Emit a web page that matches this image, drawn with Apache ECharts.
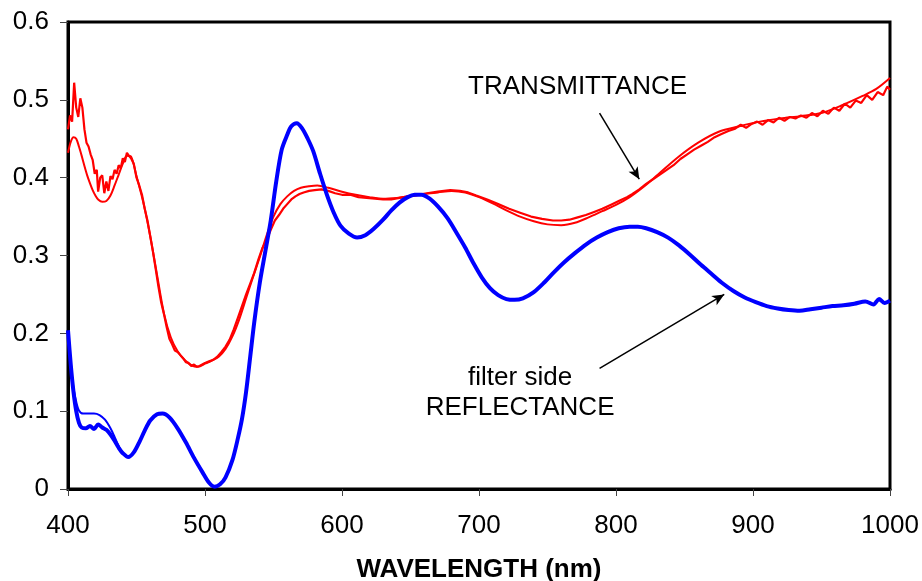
<!DOCTYPE html>
<html><head><meta charset="utf-8">
<script src="https://cdn.jsdelivr.net/npm/echarts@6/dist/echarts.min.js"></script>
<style>html,body{margin:0;padding:0;background:#fff}#c{width:922px;height:581px}</style>
</head><body><div id="c"></div>
<script>
// Reflectance (filter side), measurement A (slightly noisy in the blue start)
const wlReflA = [400,402,404,406,408,410,413,416,419,422,425,428,431,434,437,440,444,448,452,456,460,465,469,474,480,486,492,498,503,507,511,515,520,524,527,530,533,536,540,544,548,552,556,560,563,567,571,575,579,584,589,594,599,605,611,617,623,630,636,642,648,653,658,664,670,677,684,690,696,702,708,714,720,726,732,740,748,755,762,770,778,786,794,802,810,816,822,830,838,846,854,862,870,878,886,894,902,910,918,926,934,942,950,958,966,974,982,988,992,996,1000];
const reflA   = [0.204,0.16,0.125,0.1,0.085,0.079,0.078,0.081,0.077,0.083,0.079,0.076,0.07,0.062,0.053,0.046,0.041,0.047,0.06,0.075,0.088,0.096,0.097,0.092,0.078,0.06,0.04,0.022,0.008,0.003,0.006,0.015,0.037,0.065,0.09,0.125,0.17,0.215,0.265,0.305,0.345,0.395,0.436,0.455,0.466,0.47,0.463,0.45,0.434,0.405,0.378,0.355,0.338,0.328,0.323,0.326,0.334,0.346,0.358,0.368,0.375,0.378,0.378,0.373,0.363,0.348,0.328,0.31,0.29,0.272,0.258,0.249,0.244,0.243,0.245,0.253,0.266,0.279,0.291,0.303,0.314,0.323,0.33,0.335,0.337,0.337,0.335,0.33,0.323,0.313,0.301,0.288,0.276,0.264,0.254,0.246,0.24,0.235,0.232,0.23,0.229,0.231,0.233,0.235,0.236,0.238,0.241,0.237,0.244,0.239,0.242];
// Reflectance, measurement B (smooth start, then coincides with A)
const wlReflB = [400,402,404,406,408,411,415,419,423,427,431,434,437,440,444];
const reflB   = [0.2,0.158,0.13,0.112,0.101,0.097,0.097,0.097,0.095,0.089,0.078,0.067,0.055,0.046,0.041];

// Transmittance, measurement A (noisy)
const wlTransA = [400,401.5,403,404.5,406,407.5,409,410.5,412,413.5,415,416.5,418,419.5,421,422,423.5,425,426.5,428,429.5,431,432.5,434,435.5,437,438.5,440,441.5,443,444.5,446,448,450,452,454,456,458,460,462,464,466,468,470,472,474,476,478,480,482,484,486,488,490,492,494,496,498,500,503,506,509,512,515,518,521,524,527,530,533,536,539,542,545,548,551,554,557,560,563,566,569,572,576,580,585,590,595,600,606,612,618,624,630,636,642,648,655,662,670,679,686,692,698,706,714,722,730,738,746,754,760,766,772,778,784,790,796,802,808,812,817,822,827,832,837,842,847,852,857,862,867,872,877,882,887,891,895,899,903,907,911,915,919,923,927,931,935,939,943,947,951,955,959,963,967,971,975,979,983,987,991,995,998,1000];
const transA   = [0.462,0.48,0.472,0.522,0.49,0.478,0.502,0.49,0.462,0.445,0.44,0.43,0.423,0.405,0.41,0.382,0.4,0.403,0.38,0.395,0.383,0.402,0.398,0.41,0.405,0.416,0.412,0.425,0.42,0.432,0.428,0.425,0.418,0.4,0.39,0.378,0.36,0.345,0.325,0.305,0.283,0.26,0.24,0.225,0.208,0.193,0.186,0.178,0.176,0.172,0.168,0.163,0.162,0.158,0.16,0.157,0.158,0.16,0.162,0.164,0.166,0.17,0.176,0.183,0.192,0.205,0.22,0.235,0.25,0.264,0.278,0.295,0.31,0.32,0.333,0.345,0.352,0.36,0.366,0.372,0.376,0.379,0.381,0.383,0.384,0.385,0.383,0.38,0.378,0.378,0.375,0.374,0.373,0.372,0.372,0.374,0.376,0.378,0.38,0.382,0.384,0.383,0.381,0.377,0.372,0.366,0.36,0.355,0.35,0.347,0.345,0.345,0.346,0.349,0.352,0.356,0.36,0.365,0.37,0.375,0.379,0.385,0.392,0.398,0.404,0.41,0.416,0.424,0.43,0.436,0.441,0.446,0.452,0.456,0.46,0.463,0.468,0.464,0.469,0.472,0.468,0.474,0.471,0.477,0.473,0.478,0.476,0.48,0.477,0.483,0.479,0.486,0.482,0.49,0.486,0.495,0.49,0.499,0.496,0.506,0.5,0.51,0.506,0.517,0.513,0.532,0.528];
// Transmittance, measurement B (smooth)
const wlTransB = [400,402,404,406,408,410,412,414,416,418,420,422,425,428,431,434,437,440,443,446,450,455,460,465,470,475,480,485,490,495,500,505,510,515,520,525,530,535,540,545,550,555,560,565,570,576,582,590,600,610,620,630,640,650,660,670,680,690,700,710,720,730,740,750,760,770,780,790,800,810,820,830,845,860,875,890,905,920,935,950,965,980,990,1000];
const transB   = [0.432,0.446,0.452,0.45,0.44,0.428,0.415,0.403,0.393,0.384,0.377,0.372,0.369,0.37,0.377,0.39,0.404,0.418,0.428,0.427,0.402,0.368,0.325,0.275,0.226,0.195,0.177,0.166,0.159,0.157,0.161,0.165,0.17,0.18,0.196,0.218,0.245,0.272,0.298,0.326,0.35,0.366,0.376,0.383,0.387,0.389,0.39,0.387,0.382,0.378,0.375,0.373,0.374,0.376,0.379,0.381,0.383,0.381,0.375,0.367,0.358,0.35,0.344,0.34,0.339,0.342,0.349,0.357,0.365,0.375,0.388,0.403,0.426,0.445,0.459,0.466,0.472,0.476,0.479,0.483,0.493,0.505,0.514,0.528];

const xTicks = [400,500,600,700,800,900,1000];
const yTicks = [0,0.1,0.2,0.3,0.4,0.5,0.6];

const FONT = '"Liberation Sans", Arial, sans-serif';
const pairs = (xs, ys) => xs.map((x, i) => [x, ys[i]]);

const chart = echarts.init(document.getElementById('c'), null, {renderer: 'canvas'});
chart.setOption({
  animation: false,
  backgroundColor: '#fff',
  grid: {left: 68, right: 32, top: 22, bottom: 92, containLabel: false, outerBoundsMode: 'none',
    show: true, borderColor: '#000', borderWidth: 3, backgroundColor: 'transparent'},
  xAxis: {
    type: 'value', min: xTicks[0], max: xTicks[xTicks.length-1], interval: 100,
    axisLine: {show: true, lineStyle: {color: '#000', width: 3}},
    axisTick: {show: true, length: 7, lineStyle: {color: '#444', width: 1}},
    axisLabel: {fontSize: 26, color: '#000', fontFamily: FONT, margin: 24, formatter: v => String(v)},
    splitLine: {show: false},
    name: 'WAVELENGTH (nm)', nameLocation: 'middle', nameGap: 68,
    nameTextStyle: {fontSize: 26, fontWeight: 'bold', color: '#000', fontFamily: FONT}
  },
  yAxis: {
    type: 'value', min: yTicks[0], max: yTicks[yTicks.length-1], interval: 0.1,
    axisLine: {show: true, lineStyle: {color: '#000', width: 3}},
    axisTick: {show: true, length: 8, lineStyle: {color: '#444', width: 1}},
    axisLabel: {fontSize: 26, color: '#000', fontFamily: FONT, margin: 19,
      formatter: v => v === 0 ? '0' : v.toFixed(1)},
    splitLine: {show: false}
  },
  series: [
    {type: 'line', data: pairs(wlTransB, transB), showSymbol: false, smooth: 0.3, lineStyle: {color: '#ff0000', width: 2}, z: 3},
    {type: 'line', data: pairs(wlTransA, transA), showSymbol: false, smooth: false, lineStyle: {color: '#ff0000', width: 2.2}, z: 3},
    {type: 'line', data: pairs(wlReflB, reflB), showSymbol: false, smooth: 0.3, lineStyle: {color: '#0000ff', width: 2}, z: 4},
    {type: 'line', data: pairs(wlReflA, reflA), showSymbol: false, smooth: 0.3, lineStyle: {color: '#0000ff', width: 4}, z: 4,
      markLine: {
        silent: true, symbol: ['none', 'arrow'], symbolSize: [8, 12],
        label: {show: false},
        lineStyle: {color: '#000', width: 1.5, type: 'solid'},
        data: [
          [{coord: [788, 0.483]}, {coord: [817, 0.398]}],
          [{coord: [788, 0.155]}, {coord: [879, 0.25]}]
        ]
      }}
  ]
});

function place() {
  const t = chart.convertToPixel({gridIndex: 0}, [772, 0.517]);
  const f = chart.convertToPixel({gridIndex: 0}, [730, 0.143]);
  const r = chart.convertToPixel({gridIndex: 0}, [730, 0.104]);
  const st = {fontSize: 26, fill: '#000', fontFamily: FONT, textAlign: 'center', textVerticalAlign: 'middle'};
  chart.setOption({graphic: [
    {type: 'text', x: t[0], y: t[1], style: Object.assign({text: 'TRANSMITTANCE'}, st)},
    {type: 'text', x: f[0], y: f[1], style: Object.assign({text: 'filter side'}, st)},
    {type: 'text', x: r[0], y: r[1], style: Object.assign({text: 'REFLECTANCE'}, st)}
  ]});
}
place();
</script></body></html>
